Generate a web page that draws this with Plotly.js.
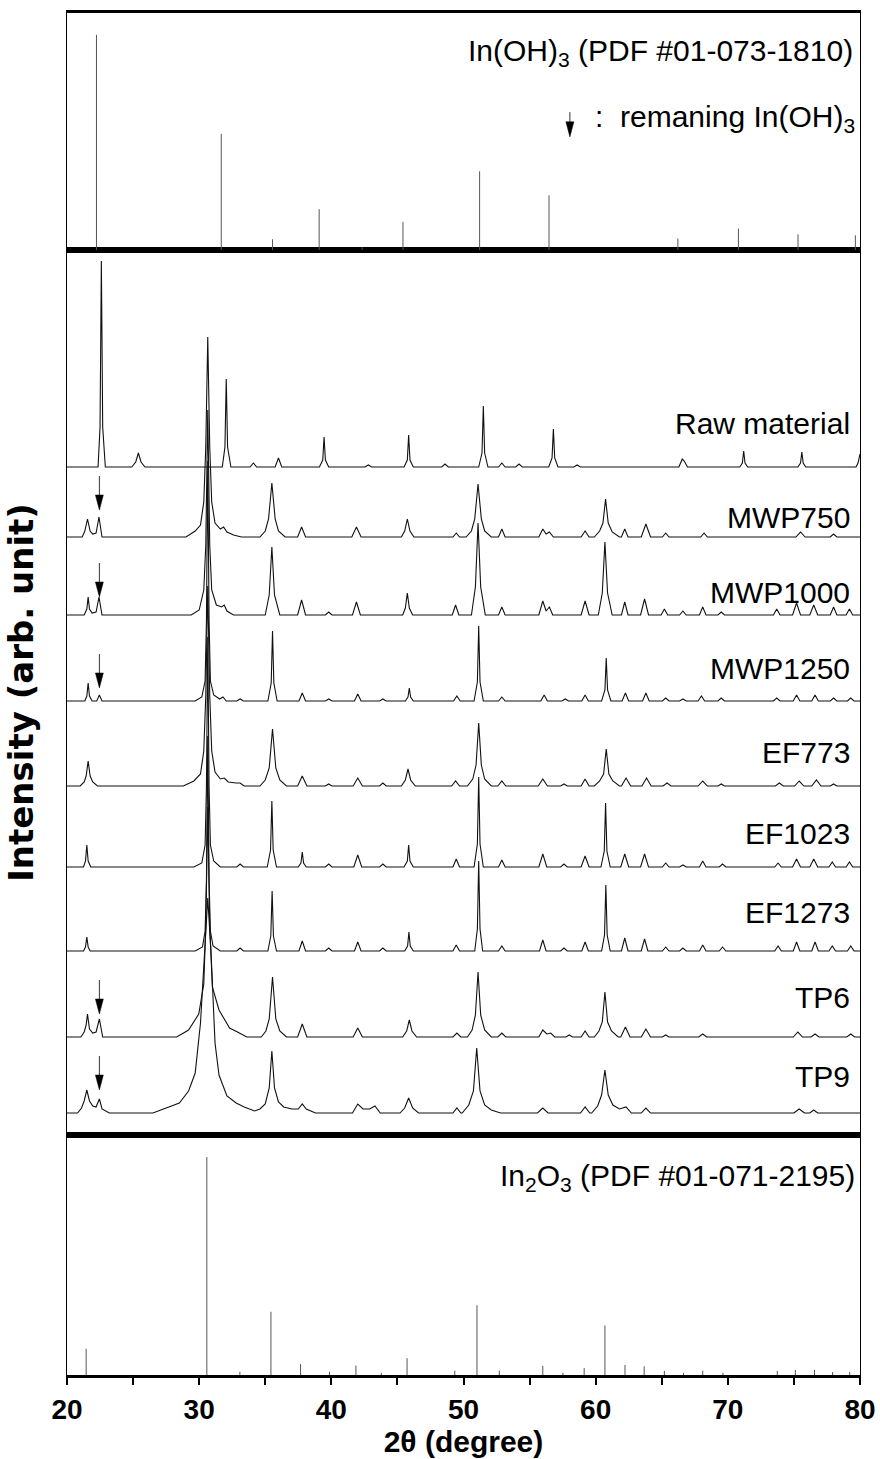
<!DOCTYPE html>
<html>
<head>
<meta charset="utf-8">
<script src="https://cdn.plot.ly/plotly-3.0.1.min.js"></script>
<style>html,body{margin:0;padding:0;background:#fff;}#chart{width:880px;height:1459px;}</style>
</head>
<body>
<div id="chart"></div>
<script>
// ---------- DATA ----------
// In(OH)3 reference pattern (PDF #01-073-1810): 2theta and relative intensity
const ohPos = [22.23, 31.67, 35.55, 39.08, 42.33, 45.42, 51.22, 56.47, 66.22, 70.8, 75.31, 79.65];
const ohInt = [100, 54, 5, 19, 1.3, 13, 36.6, 25.4, 5.3, 10, 7.3, 6.8];

// In2O3 reference pattern (PDF #01-071-2195)
const ioPos = [21.45, 30.58, 33.08, 35.43, 37.67, 39.86, 41.86, 43.78, 45.73, 49.34, 51.02, 52.71, 56.0, 57.52, 59.13, 60.70, 62.22, 63.67, 65.2, 66.65, 68.1, 69.63, 73.74, 75.11, 76.56, 77.93, 79.22];
const ioInt = [12, 100, 1.5, 29, 5, 1.5, 4.3, 1, 7.7, 2, 32, 2, 4.2, 1, 3.2, 22.7, 4.6, 4, 1.9, 1, 2, 1, 1.9, 2.3, 2.3, 1.4, 1.4];

// Sample names (top to bottom)
const sampleNames = ["Raw material", "MWP750", "MWP1000", "MWP1250", "EF773", "EF1023", "EF1273", "TP6", "TP9"];

// Measured patterns: 2theta and intensity above each pattern's own baseline (arb. unit)
const rawX = [20, 22.35,22.5,22.6,22.7,22.9, 24.9,25.2,25.4,25.6,25.9, 31.75,31.95,32.05,32.15,32.4, 33.85,34.1,34.35, 35.75,36.0,36.25, 39.1,39.35,39.45,39.55,39.8, 42.55,42.8,43.05, 45.5,45.75,45.85,45.95,46.2, 48.35,48.6,48.85, 51.15,51.4,51.5,51.6,51.85, 52.65,52.9,53.15, 53.95,54.2,54.45, 56.45,56.7,56.8,56.9,57.15, 58.35,58.6,58.85, 66.3,66.55,66.7,66.95, 70.9,71.1,71.2,71.3,71.5, 75.3,75.5,75.6,75.7,75.9, 79.7,79.85,80];
const rawY = [0, 0,40,206,40,0, 0,5,14,5,0, 0,20,88,20,0, 0,4,0, 0,9,0, 0,7,30,7,0, 0,2,0, 0,7,32,7,0, 0,3,0, 0,14,61,14,0, 0,4,0, 0,3,0, 0,9,38,9,0, 0,2,0, 0,8,6,0, 0,4,16,4,0, 0,4,15,4,0, 0,4,13];

const mwp750X = [20, 21.15,21.35,21.55,21.75,21.95, 22.2,22.42,22.65, 29.0,29.7,30.1,30.35,30.5,30.65,30.8,30.95,31.2,31.6,31.85,32.1,32.6,33.2, 34.6,35.0,35.25,35.5,35.75,36.0,36.5, 37.45,37.75,38.05, 41.55,41.9,42.25, 45.3,45.55,45.75,45.95,46.25, 49.2,49.45,49.7, 50.2,50.6,50.85,51.1,51.35,51.6,52.1, 52.65,52.9,53.15, 55.7,56.0,56.25,56.5,56.8, 58.9,59.2,59.5, 59.9,60.3,60.55,60.75,60.95,61.25,61.8, 61.95,62.2,62.45, 63.45,63.8,64.15, 65.05,65.3,65.55, 67.95,68.2,68.45, 75.15,75.5,75.85, 77.75,78.0,78.25, 80];
const mwp750Y = [0, 0,6,18,6,3, 4,20,0, 0,6,12,35,90,200,90,35,14,8,10,5,2,0, 0,6,18,54,18,6,0, 0,10,0, 0,10,0, 0,6,18,6,0, 0,4,0, 0,6,18,53,18,6,0, 0,8,0, 0,8,3,5,0, 0,6,0, 0,6,14,38,14,5,0, 0,8,0, 0,13,0, 0,4,0, 0,4,0, 0,5,0, 0,3,0, 0];

const mwp1000X = [20, 21.3,21.5,21.6,21.7,21.9, 22.2,22.42,22.65, 29.4,30.0,30.35,30.5,30.65,30.8,30.95,31.3,31.7,31.9,32.1,32.6, 35.0,35.3,35.5,35.7,36.1, 37.45,37.75,38.05, 39.55,39.8,40.05, 41.6,41.9,42.2, 45.4,45.6,45.75,45.9,46.15, 49.15,49.4,49.65, 50.6,50.9,51.1,51.3,51.65, 52.65,52.9,53.15, 55.7,56.0,56.25,56.5,56.75, 58.9,59.2,59.5, 60.2,60.5,60.7,60.9,61.25, 61.95,62.2,62.45, 63.4,63.7,64.0, 64.95,65.2,65.45, 66.35,66.6,66.85, 67.85,68.1,68.35, 69.25,69.5,69.75, 73.45,73.7,73.95, 74.9,75.2,75.5, 76.2,76.5,76.8, 77.75,78.0,78.25, 78.95,79.2,79.45, 80];
const mwp1000Y = [0, 0,6,18,6,2, 3,18,0, 0,5,25,70,205,70,25,10,8,10,4,0, 0,20,68,20,0, 0,15,0, 0,3,0, 0,13,0, 0,7,22,7,0, 0,10,0, 0,28,92,28,0, 0,8,0, 0,14,4,8,0, 0,14,0, 0,22,73,22,0, 0,13,0, 0,16,0, 0,6,0, 0,4,0, 0,8,0, 0,3,0, 0,6,0, 0,12,0, 0,10,0, 0,8,0, 0,6,0, 0];

const mwp1250X = [20, 21.35,21.5,21.6,21.7,21.9, 22.25,22.45,22.65, 29.7,30.2,30.45,30.55,30.65,30.75,30.85,31.1,31.55,31.8,32.05, 32.85,33.1,33.35, 35.2,35.45,35.55,35.65,35.9, 37.55,37.8,38.05, 39.55,39.8,40.05, 41.75,42.0,42.25, 43.65,43.9,44.15, 45.6,45.8,45.9,46.0,46.2, 49.25,49.5,49.75, 50.8,51.05,51.15,51.25,51.5, 52.65,52.9,53.15, 55.85,56.1,56.35, 57.45,57.7,57.95, 58.95,59.2,59.45, 60.45,60.7,60.8,60.9,61.15, 62.0,62.25,62.5, 63.55,63.8,64.05, 65.05,65.3,65.55, 66.35,66.6,66.85, 67.75,68.0,68.25, 69.25,69.5,69.75, 73.45,73.7,73.95, 74.95,75.2,75.45, 76.35,76.6,76.85, 77.75,78.0,78.25, 79.05,79.3,79.55, 80];
const mwp1250Y = [0, 0,5,18,5,0, 0,6,0, 0,4,20,80,240,80,20,6,2,4,0, 0,2,0, 0,18,70,18,0, 0,8,0, 0,2,0, 0,7,0, 0,2,0, 0,4,13,4,0, 0,5,0, 0,19,75,19,0, 0,4,0, 0,6,0, 0,2,0, 0,6,0, 0,11,43,11,0, 0,8,0, 0,8,0, 0,3,0, 0,2,0, 0,5,0, 0,3,0, 0,3,0, 0,6,0, 0,6,0, 0,3,0, 0,3,0, 0];

const ef773X = [20, 21.0,21.3,21.45,21.6,21.75,21.95,22.3, 28.8,29.6,30.1,30.35,30.5,30.65,30.8,30.95,31.2,31.6,31.9,32.2,32.8,33.1,33.4, 34.6,35.0,35.3,35.55,35.8,36.1,36.6, 37.45,37.8,38.15, 39.55,39.8,40.05, 41.65,42.0,42.35, 43.65,43.9,44.15, 45.3,45.6,45.8,46.0,46.35, 49.1,49.4,49.7, 50.3,50.7,50.95,51.15,51.35,51.6,52.1, 52.6,52.9,53.2, 55.65,56.0,56.35, 57.35,57.6,57.85, 58.9,59.2,59.5, 59.9,60.3,60.6,60.8,61.0,61.3,61.8, 61.95,62.3,62.65, 63.5,63.85,64.2, 65.1,65.4,65.7, 67.75,68.1,68.45, 69.25,69.5,69.75, 73.6,73.9,74.2, 75.05,75.4,75.75, 76.35,76.7,77.05, 77.75,78.0,78.25, 80];
const ef773Y = [0, 0,4,10,25,10,4,0, 0,5,12,35,90,200,90,35,14,7,8,4,3,3,0, 0,6,18,57,18,6,0, 0,10,0, 0,2,0, 0,8,0, 0,3,0, 0,6,17,6,0, 0,5,0, 0,7,21,63,21,7,0, 0,5,0, 0,7,0, 0,2,0, 0,7,0, 0,5,12,37,12,5,0, 0,8,0, 0,8,0, 0,3,0, 0,5,0, 0,2,0, 0,3,0, 0,5,0, 0,6,0, 0,2,0, 0];

const ef1023X = [20, 21.25,21.4,21.5,21.6,21.8, 29.6,30.2,30.45,30.55,30.65,30.75,30.85,31.1,31.6, 32.85,33.1,33.35, 35.15,35.4,35.5,35.6,35.85, 37.5,37.7,37.8,37.9,38.1, 39.55,39.8,40.05, 41.7,42.0,42.3, 43.65,43.9,44.15, 45.5,45.75,45.85,45.95,46.2, 49.2,49.45,49.7, 50.8,51.05,51.15,51.25,51.5, 52.65,52.9,53.15, 55.7,56.0,56.3, 57.35,57.6,57.85, 58.9,59.2,59.5, 60.4,60.65,60.75,60.85,61.1, 61.9,62.2,62.5, 63.4,63.7,64.0, 65.05,65.3,65.55, 66.35,66.6,66.85, 67.85,68.1,68.35, 69.35,69.6,69.85, 73.55,73.8,74.05, 74.9,75.2,75.5, 76.2,76.5,76.8, 77.65,77.9,78.15, 78.95,79.2,79.45, 80];
const ef1023Y = [0, 0,6,22,6,0, 0,4,22,80,230,80,22,6,0, 0,3,0, 0,17,66,17,0, 0,4,15,4,0, 0,3,0, 0,12,0, 0,3,0, 0,6,22,6,0, 0,8,0, 0,23,90,23,0, 0,7,0, 0,13,0, 0,3,0, 0,11,0, 0,16,64,16,0, 0,13,0, 0,13,0, 0,4,0, 0,2,0, 0,6,0, 0,3,0, 0,4,0, 0,8,0, 0,8,0, 0,5,0, 0,5,0, 0];

const ef1273X = [20, 21.25,21.4,21.5,21.6,21.75, 29.7,30.25,30.45,30.55,30.65,30.75,30.85,31.05,31.6, 32.85,33.1,33.35, 35.2,35.42,35.52,35.62,35.85, 37.55,37.8,38.05, 39.55,39.8,40.05, 41.75,42.0,42.25, 43.65,43.9,44.15, 45.55,45.77,45.87,45.97,46.2, 49.2,49.45,49.7, 50.85,51.05,51.15,51.25,51.45, 52.65,52.9,53.15, 55.75,56.0,56.25, 57.35,57.6,57.85, 58.95,59.2,59.45, 60.45,60.67,60.77,60.87,61.1, 61.95,62.2,62.45, 63.45,63.7,63.95, 65.05,65.3,65.55, 66.35,66.6,66.85, 67.85,68.1,68.35, 69.35,69.6,69.85, 73.55,73.8,74.05, 74.95,75.2,75.45, 76.35,76.6,76.85, 77.65,77.9,78.15, 79.05,79.3,79.55, 80];
const ef1273Y = [0, 0,4,14,4,0, 0,4,20,70,215,70,20,5,0, 0,3,0, 0,15,60,15,0, 0,10,0, 0,3,0, 0,9,0, 0,3,0, 0,5,19,5,0, 0,6,0, 0,22,90,22,0, 0,5,0, 0,11,0, 0,3,0, 0,9,0, 0,16,66,16,0, 0,13,0, 0,12,0, 0,4,0, 0,3,0, 0,6,0, 0,4,0, 0,5,0, 0,9,0, 0,9,0, 0,5,0, 0,5,0, 0];

const tp6X = [20, 21.05,21.3,21.45,21.55,21.7,21.95,22.2,22.45,22.7, 28.3,29.2,29.97,30.35,30.5,30.65,30.8,31.0,31.5,31.9,32.3,32.9,33.6, 34.7,35.05,35.3,35.55,35.8,36.1,36.6, 37.45,37.8,38.15, 41.65,42.0,42.35, 45.4,45.7,45.9,46.1,46.45, 49.2,49.5,49.8, 50.3,50.65,50.9,51.1,51.3,51.6,52.1, 52.6,52.9,53.2, 55.7,56.0,56.3,56.6,56.9, 57.75,58.0,58.25, 58.9,59.2,59.5, 59.9,60.25,60.5,60.7,60.9,61.2,61.7, 61.9,62.25,62.6, 63.45,63.8,64.15, 65.05,65.3,65.55, 67.8,68.1,68.4, 74.95,75.3,75.65, 76.3,76.6,76.9, 79.0,79.3,79.6, 80];
const tp6Y = [0, 0,5,12,23,8,4,5,18,0, 0,7,23,53,110,230,110,50,27,18,9,5,0, 0,6,18,60,18,6,0, 0,13,0, 0,9,0, 0,6,17,6,0, 0,4,0, 0,7,22,65,22,7,0, 0,4,0, 0,7,3,4,0, 0,2,0, 0,6,0, 0,6,15,45,15,6,0, 0,10,0, 0,8,0, 0,2,0, 0,3,0, 0,5,0, 0,3,0, 0,3,0, 0];

const tp9X = [20, 20.8,21.1,21.3,21.5,21.7,21.95,22.2,22.45,22.65,23.2, 26.5,27.5,28.5,29.2,29.7,30.1,30.4,30.65,30.9,31.2,31.5,32.1,32.8,33.1,33.4,34.2, 34.6,35.0,35.3,35.5,35.7,36.0,36.4,37.0,37.5,37.8,38.1,38.8, 41.6,42.0,42.4,42.9,43.3,43.7, 45.2,45.55,45.85,46.15,46.6, 49.2,49.5,49.8, 49.9,50.4,50.75,51.0,51.25,51.6,52.1,52.8, 55.6,56.0,56.4, 58.85,59.2,59.55, 59.7,60.15,60.45,60.7,60.95,61.3,61.8,62.3,62.7, 63.45,63.8,64.15, 75.0,75.4,75.8, 76.2,76.5,76.8, 80];
const tp9Y = [0, 0,5,12,23,12,7,6,14,4,0, 0,5,10,22,40,90,160,215,160,70,38,17,10,8,6,2, 4,9,25,62,25,11,6,4,4,9,4,0, 0,9,4,4,7,0, 0,5,15,5,0, 0,5,0, 0,8,22,65,22,8,3,0, 0,5,0, 0,6,0, 0,7,18,43,18,8,4,6,0, 0,5,0, 0,4,0, 0,3,0, 0];

const patternX = [rawX, mwp750X, mwp1000X, mwp1250X, ef773X, ef1023X, ef1273X, tp6X, tp9X];
const patternY = [rawY, mwp750Y, mwp1000Y, mwp1250Y, ef773Y, ef1023Y, ef1273Y, tp6Y, tp9Y];

// ---------- LAYOUT / STACKING (positions, not data) ----------
const offsets = [668, 598, 520, 434, 349, 268, 184, 98, 22];
const labelY  = [712, 618, 543, 467, 383, 302, 223, 138, 59];
const arrowSamples = [1, 2, 3, 7, 8];          // patterns with remaining In(OH)3 marked
const arrowTipAbove = [27, 18, 13, 23, 23];    // tip height above baseline
const arrowX = 22.45;                          // In(OH)3 (200) reflection
const legendArrowX = 58.05;

const FONT = "Liberation Sans, Arial, sans-serif";
const traces = [];

function sticks(pos, inten, yaxis, xaxis) {
  const x = [], y = [];
  pos.forEach((p, i) => { x.push(p, p, null); y.push(0, inten[i], null); });
  return {x, y, xaxis, yaxis, type: 'scatter', mode: 'lines',
          line: {color: '#555', width: 1}, hoverinfo: 'skip'};
}
traces.push(sticks(ohPos, ohInt, 'y3', 'x3'));
traces.push(sticks(ioPos, ioInt, 'y', 'x'));

patternX.forEach((xs, i) => {
  traces.push({
    x: xs, y: patternY[i].map(v => v + offsets[i]),
    xaxis: 'x2', yaxis: 'y2', type: 'scatter', mode: 'lines',
    line: {color: '#111', width: 1.1}, name: sampleNames[i]
  });
});

// arrows drawn as shapes (shaft + filled head)
const shapes = [];
function arrowShape(xref, yref, x, tip, headLen, shaftLen, halfW) {
  shapes.push({type: 'line', xref, yref, x0: x, x1: x, y0: tip + headLen * 0.8, y1: tip + shaftLen,
               line: {color: '#333', width: 1}});
  shapes.push({type: 'path', xref, yref,
               path: `M ${x - halfW},${tip + headLen} L ${x + halfW},${tip + headLen} L ${x},${tip} Z`,
               fillcolor: '#000', line: {color: '#000', width: 0.5}});
}
arrowSamples.forEach((s, k) => arrowShape('x2', 'y2', arrowX, offsets[s] + arrowTipAbove[k], 15, 34, 0.3));
arrowShape('x3', 'y3', legendArrowX, 52.6, 7, 11.5, 0.3);

const annotations = [];
sampleNames.forEach((n, i) => {
  annotations.push({xref: 'paper', yref: 'y2', x: 0.99, y: labelY[i], xanchor: 'right', yanchor: 'middle',
    text: n, showarrow: false, font: {family: FONT, size: 30, color: '#000'}});
});
annotations.push({xref: 'paper', yref: 'y3', x: 0.9937, y: 92, xanchor: 'right', yanchor: 'middle',
  text: 'In(OH)<sub>3</sub> (PDF #01-073-1810)', showarrow: false, font: {family: FONT, size: 30, color: '#000'}});
annotations.push({xref: 'paper', yref: 'y3', x: 0.9962, y: 61, xanchor: 'right', yanchor: 'middle',
  text: ':  remaning In(OH)<sub>3</sub>', showarrow: false, font: {family: FONT, size: 30, color: '#000'}});
annotations.push({xref: 'paper', yref: 'y', x: 0.9962, y: 90.5, xanchor: 'right', yanchor: 'middle',
  text: 'In<sub>2</sub>O<sub>3</sub> (PDF #01-071-2195)', showarrow: false, font: {family: FONT, size: 30, color: '#000'}});

const frameX = {showline: true, linewidth: 3, linecolor: '#000', mirror: true, showgrid: false, zeroline: false, range: [20, 80]};
const frameY = {showline: true, linewidth: 1, linecolor: '#000', mirror: true, showgrid: false, zeroline: false,
                showticklabels: false, ticks: ''};

const layout = {
  width: 880, height: 1459,
  margin: {l: 67, r: 20, t: 13, b: 84},
  paper_bgcolor: '#fff', plot_bgcolor: '#fff', showlegend: false,
  font: {family: FONT, color: '#000'},
  xaxis: Object.assign({}, frameX, {anchor: 'y', ticks: 'outside', ticklen: 7, tickwidth: 2, tickcolor: '#000',
    tick0: 20, dtick: 10,
    minor: {dtick: 5, ticks: 'outside', ticklen: 7, tickwidth: 2, tickcolor: '#000', showgrid: false},
    tickfont: {family: FONT, size: 28, weight: 'bold', color: '#000'},
    title: {text: '2θ (degree)', font: {family: FONT, size: 30, weight: 'bold', color: '#000'}, standoff: 4}}),
  xaxis2: Object.assign({}, frameX, {anchor: 'y2', matches: 'x', showticklabels: false, ticks: ''}),
  xaxis3: Object.assign({}, frameX, {anchor: 'y3', matches: 'x', showticklabels: false, ticks: ''}),
  yaxis: Object.assign({}, frameY, {domain: [0, 0.17621], range: [0, 110.1]}),
  yaxis2: Object.assign({}, frameY, {domain: [0.17621, 0.82599], range: [0, 885],
    title: {text: 'Intensity (arb. unit)', font: {family: 'DejaVu Sans, sans-serif', size: 34, weight: 'bold', color: '#000'}, standoff: 22}}),
  yaxis3: Object.assign({}, frameY, {domain: [0.82599, 1], range: [0, 110.2]}),
  annotations: annotations,
  shapes: shapes
};

Plotly.newPlot('chart', traces, layout, {displayModeBar: false, staticPlot: true});
</script>
</body>
</html>
